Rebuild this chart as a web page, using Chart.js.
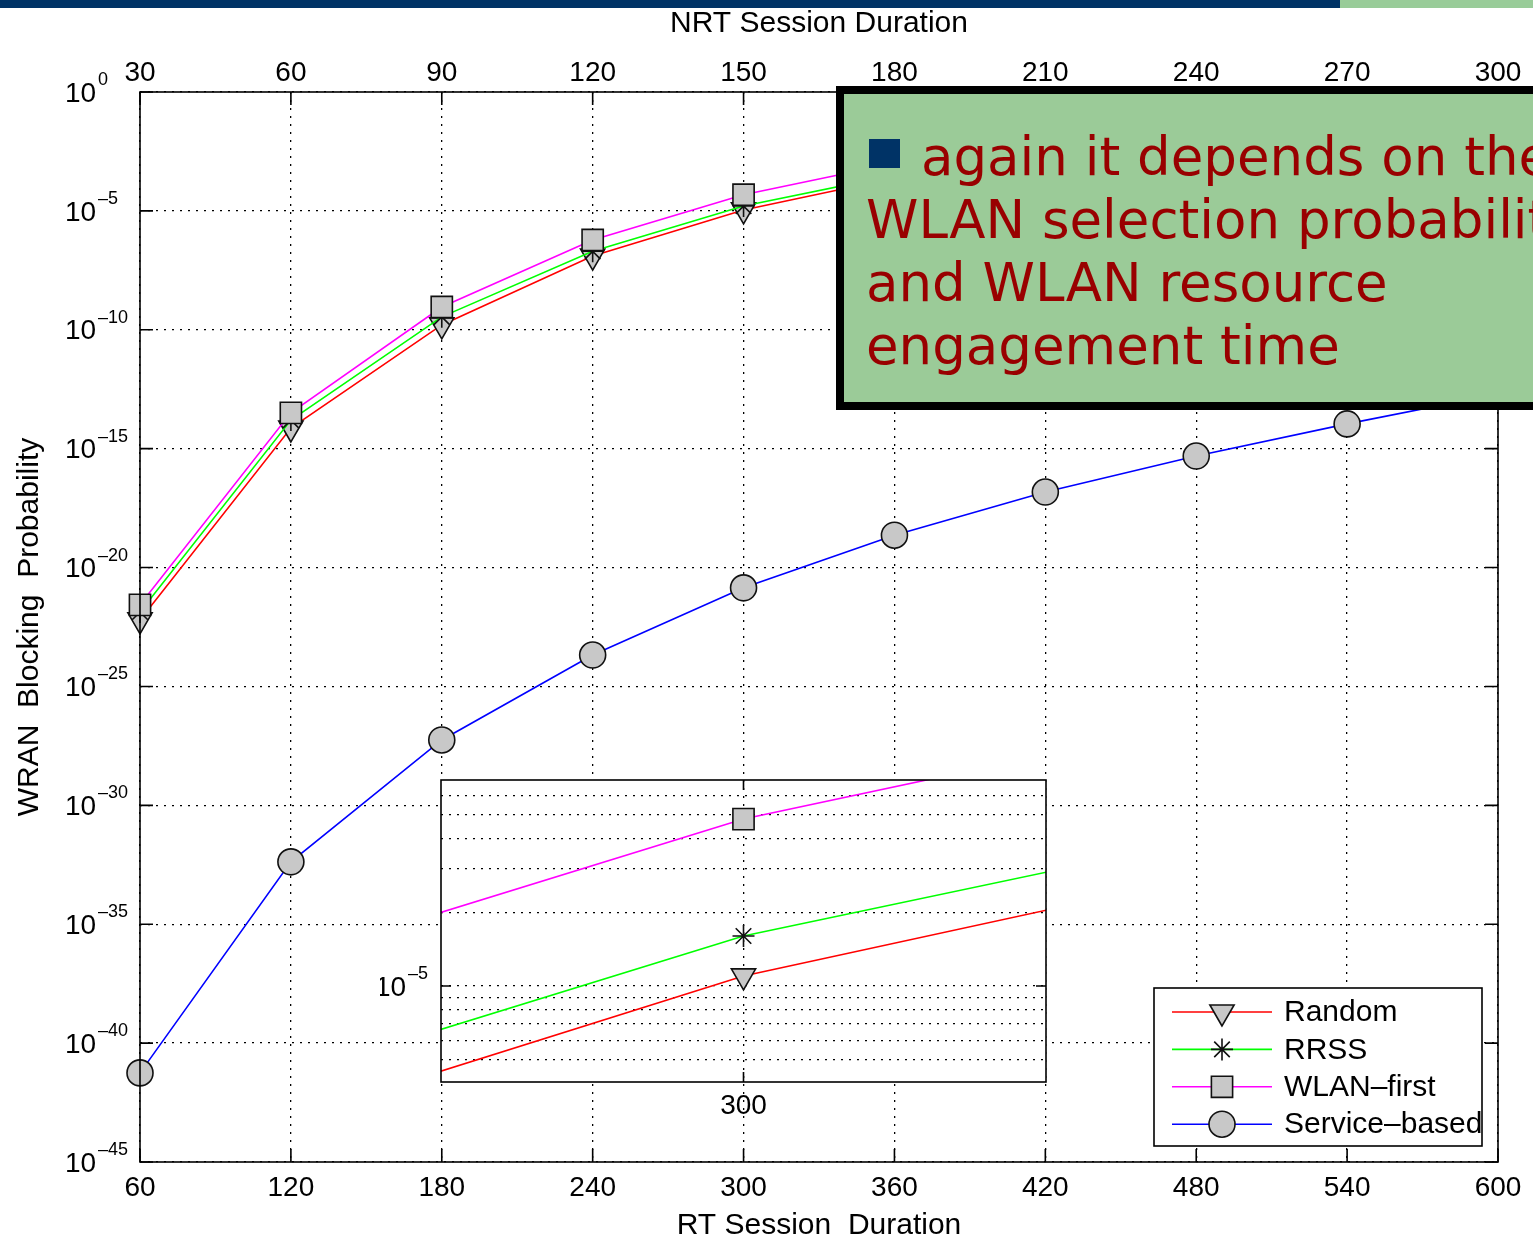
<!DOCTYPE html>
<html>
<head>
<meta charset="utf-8">
<script src="https://cdn.jsdelivr.net/npm/chart.js@4.4.0/dist/chart.umd.min.js"></script>
<style>
html, body { margin: 0; padding: 0; background: #fff; overflow: hidden; width: 1533px; height: 1241px; }
#wrap { position: relative; width: 1533px; height: 1241px; overflow: hidden; }
canvas { position: absolute; }
#main { left: 0; top: 0; }
#inset { left: 380px; top: 740px; }
.bar { position: absolute; top: 0; height: 8px; }
#callout {
  position: absolute; left: 836px; top: 86px; width: 800px; height: 324px;
  box-sizing: border-box; border: 8px solid #000; background: #9bcb98;
  color: #990000; font-family: "DejaVu Sans", sans-serif; font-size: 53px; line-height: 63px;
  padding: 31px 0 0 22px; white-space: nowrap;
}
#callout .sq { display: inline-block; width: 31px; height: 29px; background: #003366; margin-left: 3px; margin-right: 21px; vertical-align: 7px; }
</style>
</head>
<body>
<div id="wrap">
  <canvas id="main" width="1533" height="1241"></canvas>
  <canvas id="inset" width="700" height="400"></canvas>
  <div class="bar" style="left:0;width:1340px;background:#003366"></div>
  <div class="bar" style="left:1340px;width:193px;background:#99cc99"></div>
  <div id="callout"><span class="sq"></span>again it depends on the<br>WLAN selection probability<br>and WLAN resource<br>engagement time</div>
</div>
<script>
// RT session duration (bottom axis) and NRT session duration (top axis)
const rtDuration = [60, 120, 180, 240, 300, 360, 420, 480, 540, 600];
const nrtDuration = [30, 60, 90, 120, 150, 180, 210, 240, 270, 300];
const yExponents = [0, -5, -10, -15, -20, -25, -30, -35, -40, -45];
const insetGrid = [5e-6, 6e-6, 7e-6, 8e-6, 9e-6, 1e-5, 2e-5, 3e-5, 4e-5, 5e-5, 6e-5];

// WRAN blocking probability
const random = [6.3e-23, 7.4e-15, 1.6e-10, 1.26e-7, 1.1e-5, 2.4e-4, 1.8e-3, 7.9e-3, 2.5e-2, 6.3e-2];
const rrss = [1.35e-22, 1.6e-14, 3.5e-10, 2.0e-7, 1.6e-5, 3.2e-4, 2.2e-3, 9.5e-3, 2.9e-2, 7.1e-2];
const wlanFirst = [2.7e-22, 3.2e-14, 9.1e-10, 6.0e-7, 4.8e-5, 1.0e-3, 6.3e-3, 2.5e-2, 7.1e-2, 1.6e-1];
const serviceBased = [5.6e-42, 4.2e-33, 5.6e-28, 2.1e-24, 1.4e-21, 2.3e-19, 1.5e-17, 4.9e-16, 1.1e-14, 2.0e-13];

const seriesNames = ['Random', 'RRSS', 'WLAN\u2013first', 'Service\u2013based'];
const lineColors = ['#ff0000', '#00ff00', '#ff00ff', '#0000ff'];
const markerStyles = ['triangle', 'star', 'rect', 'circle'];
const markerRotation = [180, 0, 0, 0];
const markerRadius = [14, 11, 15, 13];

const FONT = '"Liberation Sans", Arial, sans-serif';
Chart.defaults.color = '#000';
Chart.defaults.font.family = FONT;

function makeDatasets(clip) {
  const values = [random, rrss, wlanFirst, serviceBased];
  return values.map((vals, i) => ({
    label: seriesNames[i],
    data: rtDuration.map((x, j) => ({ x: x, y: vals[j] })),
    borderColor: lineColors[i],
    borderWidth: 1.6,
    pointStyle: markerStyles[i],
    rotation: markerRotation[i],
    pointRadius: markerRadius[i],
    pointBackgroundColor: '#c8c8c8',
    pointBorderColor: '#111',
    pointBorderWidth: 1.6,
    tension: 0,
    fill: false,
    clip: clip,
    order: 4 - i
  }));
}

function line(ctx, x1, y1, x2, y2) {
  ctx.moveTo(x1, y1);
  ctx.lineTo(x2, y2);
}

const axesFrame = {
  id: 'axesFrame',
  beforeDraw(chart, args, opts) {
    if (!opts.whiteArea) return;
    const a = chart.chartArea, ctx = chart.ctx;
    ctx.save();
    ctx.fillStyle = '#fff';
    ctx.fillRect(a.left, a.top, a.right - a.left, a.bottom - a.top);
    ctx.restore();
  },
  afterDraw(chart, args, opts) {
    const { ctx, chartArea: a, scales } = chart;
    ctx.save();
    ctx.strokeStyle = '#000';
    ctx.lineWidth = 1.6;
    ctx.strokeRect(a.left, a.top, a.right - a.left, a.bottom - a.top);

    // inward tick marks
    const L = opts.tickLen;
    ctx.beginPath();
    opts.yMarks.forEach(v => {
      const py = scales.y.getPixelForValue(v);
      line(ctx, a.left, py, a.left + L, py);
      line(ctx, a.right, py, a.right - L, py);
    });
    opts.xMarks.forEach(v => {
      const px = scales.x.getPixelForValue(v);
      line(ctx, px, a.bottom, px, a.bottom - L);
      line(ctx, px, a.top, px, a.top + L);
    });
    ctx.stroke();

    // 10^n labels
    ctx.fillStyle = '#000';
    ctx.textAlign = 'left';
    ctx.textBaseline = 'middle';
    opts.yMarks.forEach(v => {
      const e = Math.round(Math.log10(v));
      const py = scales.y.getPixelForValue(v);
      const x0 = a.left - opts.labelOffset;
      ctx.font = '28px ' + FONT;
      ctx.fillText('10', x0, py + 2);
      ctx.font = '18px ' + FONT;
      ctx.fillText(e === 0 ? '0' : '\u2013' + (-e), x0 + 33, py - 12);
    });

    // legend box
    const lg = opts.legend;
    if (lg) {
      ctx.fillStyle = '#fff';
      ctx.fillRect(lg.x, lg.y, lg.w, lg.h);
      ctx.lineWidth = 1.6;
      ctx.strokeStyle = '#000';
      ctx.strokeRect(lg.x, lg.y, lg.w, lg.h);
      chart.data.datasets.forEach((ds, i) => {
        const ry = lg.y + 24 + i * 37.4;
        ctx.beginPath();
        ctx.strokeStyle = ds.borderColor;
        ctx.lineWidth = 1.6;
        line(ctx, lg.x + 18, ry, lg.x + 118, ry);
        ctx.stroke();
        ctx.fillStyle = ds.pointBackgroundColor;
        ctx.strokeStyle = ds.pointBorderColor;
        ctx.lineWidth = ds.pointBorderWidth;
        Chart.helpers.drawPoint(ctx, {
          pointStyle: ds.pointStyle, rotation: ds.rotation,
          radius: ds.pointRadius, borderWidth: ds.pointBorderWidth
        }, lg.x + 68, ry);
        ctx.fillStyle = '#000';
        ctx.font = '30px ' + FONT;
        ctx.textBaseline = 'middle';
        ctx.fillText(ds.label, lg.x + 130, ry + 1);
      });
    }
    ctx.restore();
  }
};

const gridStyle = { color: '#000', lineWidth: 1.3, drawTicks: false };
const gridBorder = { display: false, dash: [2, 6] };
const yValues = yExponents.map(e => Number('1e' + e));

new Chart(document.getElementById('main'), {
  type: 'line',
  data: { datasets: makeDatasets(false) },
  plugins: [axesFrame],
  options: {
    responsive: false,
    animation: false,
    events: [],
    layout: { padding: { left: 0, top: 0, right: 35, bottom: 0 } },
    plugins: {
      legend: { display: false },
      tooltip: { enabled: false },
      axesFrame: {
        tickLen: 13, labelOffset: 75,
        yMarks: yValues, xMarks: rtDuration,
        legend: { x: 1154, y: 988, w: 328, h: 158 }
      }
    },
    scales: {
      x: {
        type: 'linear', position: 'bottom', min: 60, max: 600,
        afterBuildTicks: s => { s.ticks = rtDuration.map(v => ({ value: v })); },
        afterFit: s => { s.height = 79; },
        grid: gridStyle, border: gridBorder,
        ticks: { font: { size: 28 }, padding: 9, maxRotation: 0 },
        title: { display: true, text: 'RT Session  Duration', font: { size: 30, lineHeight: 1 }, padding: { top: 0, bottom: 0 } }
      },
      x2: {
        type: 'linear', position: 'top', min: 30, max: 300,
        afterBuildTicks: s => { s.ticks = nrtDuration.map(v => ({ value: v })); },
        afterFit: s => { s.height = 92; },
        grid: { display: false, drawTicks: false }, border: { display: false },
        ticks: { font: { size: 28 }, padding: 2, maxRotation: 0 },
        title: { display: true, text: 'NRT Session Duration', font: { size: 30, lineHeight: 1 }, padding: { top: 9, bottom: 0 } }
      },
      y: {
        type: 'logarithmic', min: 1e-45, max: 1,
        afterBuildTicks: s => { s.ticks = yValues.map(v => ({ value: v })); },
        afterFit: s => { s.width = 140; },
        grid: gridStyle, border: gridBorder,
        ticks: { display: false },
        title: { display: true, text: 'WRAN  Blocking  Probability', font: { size: 30, lineHeight: 1 }, padding: { top: 15, bottom: 0 } }
      }
    }
  }
});

// zoomed inset around RT = 300
new Chart(document.getElementById('inset'), {
  type: 'line',
  data: { datasets: makeDatasets(true) },
  plugins: [axesFrame],
  options: {
    responsive: false,
    animation: false,
    events: [],
    layout: { padding: { left: 0, top: 40, right: 34, bottom: 0 } },
    plugins: {
      legend: { display: false },
      tooltip: { enabled: false },
      axesFrame: { whiteArea: true, tickLen: 10, labelOffset: 66, yMarks: [1e-5], xMarks: [300] }
    },
    scales: {
      x: {
        type: 'linear', position: 'bottom', min: 288, max: 312,
        afterBuildTicks: s => { s.ticks = [{ value: 300 }]; },
        afterFit: s => { s.height = 58; },
        grid: gridStyle, border: gridBorder,
        ticks: { font: { size: 28 }, padding: 7, maxRotation: 0 }
      },
      y: {
        type: 'logarithmic', min: 4.06e-6, max: 6.93e-5,
        afterBuildTicks: s => { s.ticks = insetGrid.map(v => ({ value: v })); },
        afterFit: s => { s.width = 61; },
        grid: gridStyle, border: gridBorder,
        ticks: { display: false }
      }
    }
  }
});
</script>
</body>
</html>
